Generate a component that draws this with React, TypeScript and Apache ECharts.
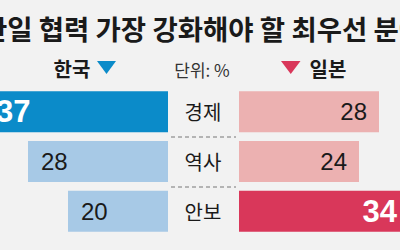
import React, { useEffect, useRef } from 'react';
import * as echarts from 'echarts';

const categories = ['경제', '역사', '안보'];
const koreaValues = [37, 28, 20];
const japanValues = [28, 24, 34];
const titleText = '한일 협력 가장 강화해야 할 최우선 분야';
const koreaLabel = '한국';
const japanLabel = '일본';
const unitLabel = '단위: %';

const KFONT = "'Noto Sans CJK KR', 'Noto Sans', sans-serif";
const NFONT = "'Liberation Sans', Arial, sans-serif";

export default function App() {
  const ref = useRef<HTMLDivElement>(null);
  useEffect(() => {
    const chart = echarts.init(ref.current as HTMLDivElement, null, { renderer: 'svg' });
    const kMax = Math.max(...koreaValues);
    const jMax = Math.max(...japanValues);
    const koreaData = koreaValues.map((v) => ({
      value: v,
      itemStyle: { color: v === kMax ? '#0b8bc9' : '#a7c9e6' },
      label: v === kMax
        ? { color: '#ffffff', fontWeight: 'bold', fontSize: 31 }
        : { color: '#1a1a1a', fontWeight: 'normal', fontSize: 24 },
    }));
    const japanData = japanValues.map((v) => ({
      value: v,
      itemStyle: { color: v === jMax ? '#d9375a' : '#ecb1b1' },
      label: v === jMax
        ? { color: '#ffffff', fontWeight: 'bold', fontSize: 31 }
        : { color: '#1a1a1a', fontWeight: 'normal', fontSize: 24 },
    }));
    chart.setOption({
      animation: false,
      backgroundColor: '#f2f2f2',
      grid: [
        { left: -32, top: 87, width: 200, height: 149, outerBoundsMode: 'none', containLabel: false },
        { left: 239, top: 87, width: 200, height: 149, outerBoundsMode: 'none', containLabel: false },
      ],
      xAxis: [
        { gridIndex: 0, type: 'value', min: 0, max: 40, inverse: true, show: false },
        { gridIndex: 1, type: 'value', min: 0, max: 40, show: false },
      ],
      yAxis: [
        { gridIndex: 0, type: 'category', data: categories, inverse: true, show: false },
        {
          gridIndex: 1,
          type: 'category',
          data: categories,
          inverse: true,
          axisLine: { show: false },
          axisTick: { show: false },
          splitLine: { show: false },
          axisLabel: {
            align: 'center',
            margin: 36,
            fontSize: 20,
            color: '#1a1a1a',
            fontFamily: KFONT,
          },
        },
      ],
      series: [
        {
          type: 'bar',
          xAxisIndex: 0,
          yAxisIndex: 0,
          barWidth: 41,
          data: koreaData,
          label: {
            show: true,
            position: 'insideLeft',
            distance: 13,
            fontFamily: NFONT,
          },
        },
        {
          type: 'bar',
          xAxisIndex: 1,
          yAxisIndex: 1,
          barWidth: 41,
          data: japanData,
          label: {
            show: true,
            position: 'insideRight',
            distance: 12,
            fontFamily: NFONT,
          },
        },
      ],
      graphic: [
        {
          type: 'text',
          x: 203,
          y: 28,
          style: {
            text: titleText,
            fontSize: 27.5,
            fontWeight: 'bold',
            fontFamily: KFONT,
            fill: '#1a1a1a',
            align: 'center',
            verticalAlign: 'middle',
          },
        },
        {
          type: 'text',
          x: 72,
          y: 68,
          style: {
            text: koreaLabel,
            fontSize: 20,
            fontWeight: 'bold',
            fontFamily: KFONT,
            fill: '#1a1a1a',
            align: 'center',
            verticalAlign: 'middle',
          },
        },
        {
          type: 'text',
          x: 202,
          y: 69,
          style: {
            text: unitLabel,
            fontSize: 17,
            fontFamily: KFONT,
            fill: '#333333',
            align: 'center',
            verticalAlign: 'middle',
          },
        },
        {
          type: 'text',
          x: 328,
          y: 68,
          style: {
            text: japanLabel,
            fontSize: 20,
            fontWeight: 'bold',
            fontFamily: KFONT,
            fill: '#1a1a1a',
            align: 'center',
            verticalAlign: 'middle',
          },
        },
        {
          type: 'polygon',
          shape: { points: [[97, 61], [116, 61], [106.5, 74]] },
          style: { fill: '#0b8bc9' },
        },
        {
          type: 'polygon',
          shape: { points: [[281, 61], [300.5, 61], [290.75, 74]] },
          style: { fill: '#d9375a' },
        },
        {
          type: 'line',
          shape: { x1: 171, y1: 137, x2: 236, y2: 137 },
          style: { stroke: '#777777', lineWidth: 1, lineDash: [4, 3] },
        },
        {
          type: 'line',
          shape: { x1: 171, y1: 187, x2: 236, y2: 187 },
          style: { stroke: '#777777', lineWidth: 1, lineDash: [4, 3] },
        },
      ],
    });
    return () => chart.dispose();
  }, []);
  return (
    <div
      ref={ref}
      style={{ position: 'fixed', left: 0, top: 0, width: 400, height: 250 }}
    />
  );
}
